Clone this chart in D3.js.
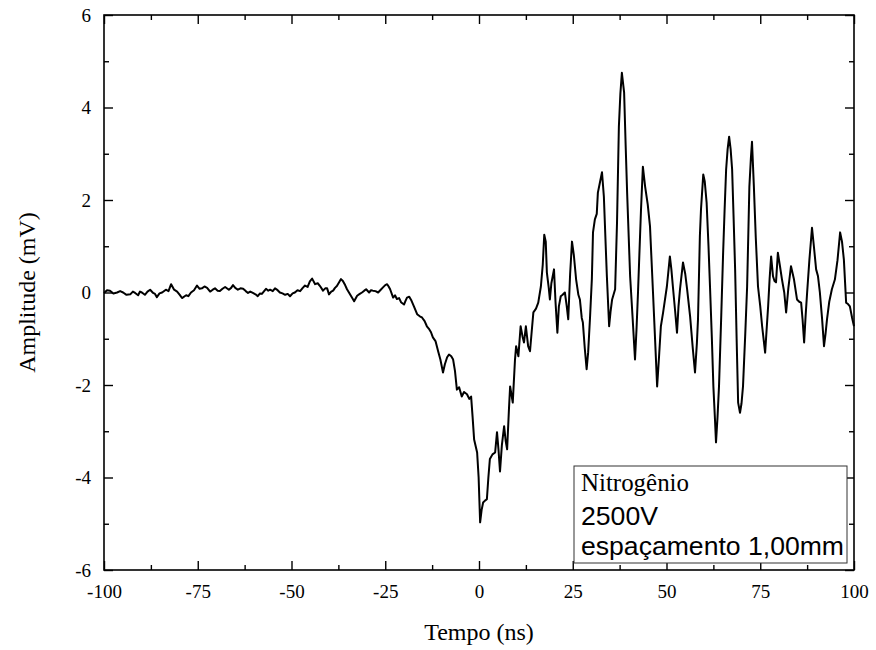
<!DOCTYPE html>
<html lang="pt">
<head>
  <meta charset="UTF-8">
  <title>Amplitude x Tempo - Nitrogênio</title>
  <script src="https://d3js.org/d3.v7.min.js"></script>
  <style>
    body { margin: 0; background: #fff; }
    svg { display: block; }
    .tick text { font-family: "Liberation Serif", "Times New Roman", serif; font-size: 19px; fill: #000; }
    .tick line { stroke: #000; stroke-width: 1.4; }
    .trace { fill: none; stroke: #000; stroke-width: 2; stroke-linejoin: round; }
  </style>
</head>
<body>
  <svg width="876" height="650"></svg>

  <script>
    // waveform (ns, mV)
    const timeNs = [
      -100, -99.2, -98.4, -97.5, -96.5, -95.7, -94.9, -94, -93, -92.3, -91.7, -90.9, -90.4, -89.9, -89.1, -88.4,
      -87.7, -86.9, -86.4, -85.9, -85.2, -84.5, -83.5, -82.8, -82.1, -81.3, -80.5, -79.8, -79.2, -78.1, -77.5, -76.8,
      -76, -75.2, -74.5, -73.9, -73.2, -72.5, -71.7, -71, -70.4, -69.7, -69.1, -68.4, -67.7, -66.7, -66.1, -65.6,
      -65, -64.3, -63.6, -62.9, -62.2, -61.6, -61, -60.3, -59.6, -59, -58.4, -57.9, -57.3, -56.8, -56.2, -55.7,
      -55, -54.4, -53.7, -53.1, -52.4, -51.7, -51, -50.4, -49.7, -49.1, -48.4, -47.7, -47, -46.4, -45.7, -45.1,
      -44.5, -43.7, -43, -42.4, -41.6, -41, -40.5, -40, -39.4, -38.9, -38.4, -37.9, -37.3, -36.8, -36.3, -35.7,
      -35.2, -34.4, -33.8, -33.3, -32.5, -31.8, -31.2, -30.6, -30.1, -29.3, -28.8, -28.3, -27.6, -26.9, -26.2, -25.6,
      -25, -24.5, -24.1, -23.7, -22.9, -22.4, -21.9, -21.3, -20.8, -20, -19.6, -19.2, -18.6, -18.1, -17.3, -16.5,
      -15.7, -15.2, -14.5, -13.9, -13.4, -12.8, -12.3, -11.6, -10.9, -10.3, -9.6, -9.1, -8.5, -8, -7.4, -6.9,
      -6.4, -5.9, -5.3, -4.6, -4, -3.2, -2.6, -2.1, -1.7, -1.3, -0.5, -0.1, 0.3, 0.7, 1.1, 1.6,
      2.1, 2.5, 2.9, 3.6, 4.3, 4.8, 5.2, 5.6, 6.1, 6.7, 7.1, 7.5, 8, 8.3, 9, 9.6,
      9.9, 10.5, 11.1, 11.6, 12, 12.5, 13.1, 13.6, 14.1, 14.5, 15.2, 15.8, 16.5, 17, 17.4, 17.8,
      18.1, 18.6, 18.9, 19.3, 20, 20.4, 20.9, 21.3, 21.8, 22.3, 22.9, 23.4, 23.8, 24.3, 24.8, 25.3,
      25.9, 26.5, 26.9, 27.4, 27.7, 28.2, 28.7, 29.1, 29.6, 30.1, 30.4, 30.9, 31.4, 31.7, 32.3, 32.8,
      33.3, 33.7, 34.1, 34.7, 35.1, 35.5, 36.3, 36.8, 37.3, 37.7, 38.1, 38.7, 39.1, 39.5, 40.3, 41,
      41.6, 42, 42.4, 42.8, 43.2, 43.7, 44.3, 45, 45.6, 46.4, 47, 47.5, 48, 48.5, 49.1, 50.1,
      50.9, 51.3, 51.7, 52.3, 52.8, 53.2, 53.6, 54.4, 55, 55.5, 56.3, 57, 57.6, 58.1, 58.4, 58.9,
      59.2, 59.8, 60.2, 60.7, 61.2, 61.6, 62.1, 62.5, 62.9, 63.2, 63.6, 64, 64.6, 65.1, 65.5, 65.9,
      66.3, 66.7, 67.1, 67.5, 67.9, 68.3, 68.7, 69.1, 69.6, 70, 70.4, 71, 71.5, 71.8, 72.1, 72.5,
      72.8, 73.3, 73.8, 74.4, 75, 75.5, 76.3, 76.7, 77.1, 77.5, 77.9, 78.4, 78.8, 79.2, 79.7, 80.2,
      80.8, 81.4, 81.9, 82.5, 83.2, 84, 84.8, 85.4, 85.9, 86.3, 86.7, 87.1, 87.5, 88.1, 88.8, 89.3,
      89.9, 90.4, 90.9, 91.5, 92, 92.4, 92.8, 93.4, 94.1, 94.9, 95.6, 96.3, 96.8, 97.3, 97.9, 98.4,
      98.9, 99.5, 100
    ];
    const amplitudeMv = [
      -0.01, 0.05, 0.04, -0.02, 0.00, 0.03, 0.00, -0.05, -0.04, 0.02, -0.01, -0.06, 0.02, 0.00, -0.05, 0.02,
      0.06, -0.01, -0.03, -0.10, -0.02, 0.00, 0.06, 0.03, 0.18, 0.06, 0.02, -0.05, -0.12, -0.06, -0.08, 0.00,
      0.05, 0.15, 0.08, 0.09, 0.13, 0.10, 0.02, 0.06, 0.09, 0.04, 0.03, 0.08, 0.12, 0.06, 0.10, 0.16,
      0.10, 0.06, 0.09, 0.08, 0.03, -0.01, 0.02, -0.01, -0.04, -0.08, -0.02, -0.03, 0.03, 0.08, 0.04, 0.06,
      0.03, 0.09, 0.05, 0.00, -0.02, -0.05, -0.03, -0.08, -0.02, 0.00, 0.05, 0.03, 0.10, 0.15, 0.12, 0.24,
      0.30, 0.18, 0.20, 0.14, 0.04, 0.09, 0.09, -0.04, 0.02, 0.04, 0.10, 0.14, 0.22, 0.29, 0.25, 0.16,
      0.07, -0.04, -0.12, -0.19, -0.07, -0.03, 0.00, 0.04, 0.07, 0.00, 0.05, 0.04, 0.03, 0.00, 0.06, 0.11,
      0.16, 0.18, 0.13, 0.07, -0.11, -0.06, -0.14, -0.12, -0.21, -0.26, -0.18, -0.11, -0.09, -0.16, -0.31, -0.47,
      -0.52, -0.54, -0.62, -0.73, -0.78, -0.86, -0.97, -1.05, -1.27, -1.45, -1.73, -1.55, -1.40, -1.34, -1.38, -1.45,
      -1.70, -2.10, -2.05, -2.25, -2.15, -2.20, -2.30, -2.25, -2.70, -3.18, -3.46, -4.00, -4.97, -4.70, -4.54, -4.50,
      -4.47, -4.00, -3.60, -3.50, -3.46, -3.02, -3.40, -3.87, -3.30, -2.89, -3.20, -3.39, -2.50, -2.03, -2.38, -1.45,
      -1.16, -1.38, -0.73, -0.95, -1.08, -0.73, -1.16, -1.27, -0.80, -0.43, -0.35, -0.22, 0.13, 0.60, 1.25, 1.10,
      0.43, 0.10, -0.15, 0.20, 0.50, -0.20, -0.87, -0.30, -0.08, -0.05, 0.00, -0.30, -0.58, 0.40, 1.10, 0.80,
      0.28, -0.05, -0.15, -0.55, -0.65, -1.20, -1.66, -1.30, -0.55, 0.30, 1.30, 1.58, 1.70, 2.16, 2.40, 2.60,
      2.07, 1.20, 0.35, -0.73, -0.40, -0.15, 0.07, 1.50, 3.59, 4.30, 4.75, 4.32, 3.20, 2.16, 0.35, -0.60,
      -1.45, -0.80, 0.00, 0.90, 1.79, 2.72, 2.29, 1.90, 1.43, 0.00, -1.10, -2.03, -1.40, -0.73, -0.43, 0.13,
      0.78, 0.50, 0.13, -0.40, -0.87, -0.30, 0.07, 0.65, 0.40, 0.07, -0.52, -1.20, -1.73, -1.10, -0.58, 1.22,
      1.80, 2.55, 2.40, 1.94, 1.00, 0.13, -1.00, -2.03, -2.70, -3.24, -2.70, -2.03, -0.50, 0.86, 1.80, 2.66,
      3.10, 3.37, 3.10, 2.66, 1.60, 0.50, -1.00, -2.38, -2.60, -2.40, -2.03, -0.90, 0.13, 1.20, 2.29, 2.90,
      3.26, 2.29, 1.20, 0.13, -0.30, -0.73, -1.30, -0.80, -0.30, 0.30, 0.78, 0.35, 0.25, 0.22, 0.86, 0.60,
      0.28, 0.00, -0.43, 0.10, 0.57, 0.28, -0.15, -0.20, -0.22, -0.60, -1.08, -0.50, 0.00, 0.70, 1.40, 1.00,
      0.50, 0.35, 0.00, -0.58, -1.16, -0.90, -0.58, -0.20, 0.07, 0.28, 0.70, 1.30, 1.10, 0.71, -0.22, -0.25,
      -0.30, -0.55, -0.73
    ];

    const xTicks = [-100, -75, -50, -25, 0, 25, 50, 75, 100];
    const xMinorTicks = [-87.5, -62.5, -37.5, -12.5, 12.5, 37.5, 62.5, 87.5];
    const yTicks = [-6, -4, -2, 0, 2, 4, 6];
    const yMinorTicks = [-5, -3, -1, 1, 3, 5];
    const legendLines = ["Nitrogênio", "2500V", "espaçamento 1,00mm"];

    const svg = d3.select("svg");
    const plot = { left: 104, right: 854, top: 15, bottom: 570 };

    const x = d3.scaleLinear().domain([-100, 100]).range([plot.left, plot.right]);
    const y = d3.scaleLinear().domain([-6, 6]).range([plot.bottom, plot.top]);

    const data = timeNs.map((t, i) => ({ t, v: amplitudeMv[i] }));

    // trace
    svg.append("path")
      .datum(data)
      .attr("class", "trace")
      .attr("d", d3.line().x(d => x(d.t)).y(d => y(d.v)));

    // axes, ticks pointing inward; plain hyphen for negatives like the original
    const plain = d => String(d);
    function addAxis(axis, transform, major, labels) {
      const g = svg.append("g")
        .attr("transform", transform)
        .call(axis.tickFormat(plain).tickSizeInner(major ? -9 : -5).tickSizeOuter(0));
      g.select(".domain").remove();
      if (!labels) g.selectAll("text").remove();
      return g;
    }

    addAxis(d3.axisBottom(x).tickValues(xTicks).tickPadding(15), `translate(0,${plot.bottom})`, true, true);
    addAxis(d3.axisBottom(x).tickValues(xMinorTicks), `translate(0,${plot.bottom})`, false, false);
    addAxis(d3.axisTop(x).tickValues(xTicks), `translate(0,${plot.top})`, true, false);
    addAxis(d3.axisTop(x).tickValues(xMinorTicks), `translate(0,${plot.top})`, false, false);
    addAxis(d3.axisLeft(y).tickValues(yTicks).tickPadding(13), `translate(${plot.left},0)`, true, true);
    addAxis(d3.axisLeft(y).tickValues(yMinorTicks), `translate(${plot.left},0)`, false, false);
    addAxis(d3.axisRight(y).tickValues(yTicks), `translate(${plot.right},0)`, true, false);
    addAxis(d3.axisRight(y).tickValues(yMinorTicks), `translate(${plot.right},0)`, false, false);

    svg.append("rect")
      .attr("x", plot.left).attr("y", plot.top)
      .attr("width", plot.right - plot.left).attr("height", plot.bottom - plot.top)
      .attr("fill", "none").attr("stroke", "#000").attr("stroke-width", 1.6);

    // axis titles
    svg.append("text")
      .attr("x", (plot.left + plot.right) / 2).attr("y", 640)
      .attr("text-anchor", "middle")
      .style("font-family", "'Liberation Serif', serif").style("font-size", "24px")
      .text("Tempo (ns)");

    svg.append("text")
      .attr("transform", `translate(35,${(plot.top + plot.bottom) / 2}) rotate(-90)`)
      .attr("text-anchor", "middle")
      .style("font-family", "'Liberation Serif', serif").style("font-size", "24px")
      .text("Amplitude (mV)");

    // legend box (original text is a bit wider than the font, hence textLength)
    const lg = svg.append("g");
    lg.append("rect")
      .attr("x", 574).attr("y", 466).attr("width", 273).attr("height", 97)
      .attr("fill", "#fff").attr("stroke", "#333").attr("stroke-width", 1);
    lg.selectAll("text")
      .data(legendLines)
      .join("text")
      .attr("x", 581)
      .attr("y", (d, i) => [491, 525, 555][i])
      .attr("textLength", (d, i) => [108, 77, 263][i])
      .attr("lengthAdjust", "spacingAndGlyphs")
      .style("font-family", (d, i) => i === 0 ? "'Liberation Serif', serif" : "'Liberation Sans', Arial, sans-serif")
      .style("font-size", "25px")
      .text(d => d);
  </script>
</body>
</html>
